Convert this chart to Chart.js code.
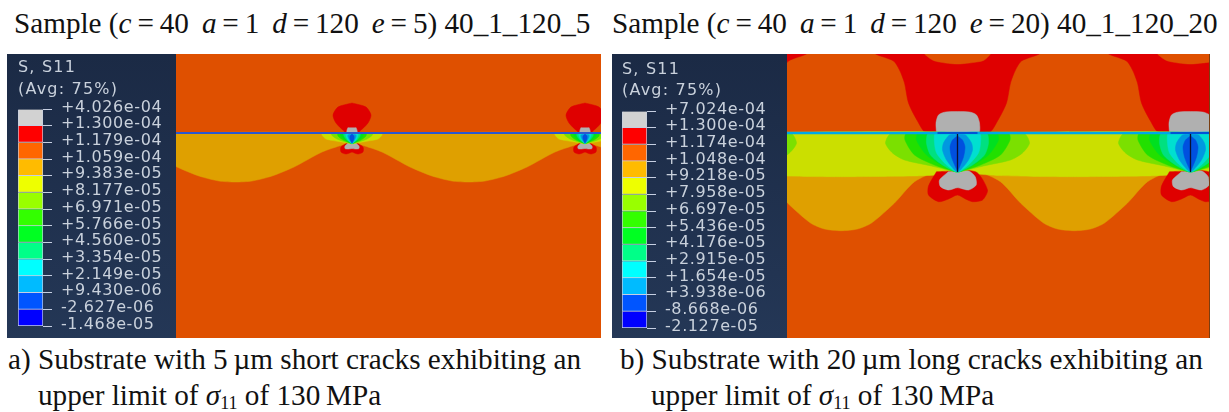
<!DOCTYPE html>
<html><head><meta charset="utf-8">
<script src="https://cdn.jsdelivr.net/npm/chart.js@4"></script>
<style>
html,body{margin:0;padding:0;background:#fff;width:1229px;height:412px;overflow:hidden}
.t{position:absolute;white-space:nowrap;font-family:"Liberation Serif",serif;color:#111;font-size:29.2px;line-height:30px}
.t i{font-style:italic}
.t sub{font-size:18px;line-height:0;vertical-align:-4px}
.t .g{letter-spacing:-.8px}
.dark{position:absolute;top:54px;height:284px;background:linear-gradient(#1b2a45,#243756)}
.cap{position:absolute;font-family:"DejaVu Sans",sans-serif;font-size:16px;letter-spacing:1.2px;color:#c9d1dc;white-space:nowrap;line-height:20px;filter:blur(.3px)}
canvas{position:absolute;display:block;filter:blur(.35px)}
</style></head><body>
<div class="t" id="ta" style="left:14px;top:8px">Sample (<i>c</i>&#8201;=&#8201;40<span class="g">&nbsp; </span><i>a</i>&#8201;=&#8201;1<span class="g">&nbsp; </span><i>d</i>&#8201;=&#8201;120<span class="g">&nbsp; </span><i>e</i>&#8201;=&#8201;5) 40_1_120_5</div>
<div class="t" id="tb" style="left:612px;top:8px">Sample (<i>c</i>&#8201;=&#8201;40<span class="g">&nbsp; </span><i>a</i>&#8201;=&#8201;1<span class="g">&nbsp; </span><i>d</i>&#8201;=&#8201;120<span class="g">&nbsp; </span><i>e</i>&#8201;=&#8201;20) 40_1_120_20</div>
<div class="dark" style="left:7px;width:169px"></div>
<div class="dark" style="left:612px;width:175px"></div>
<div class="cap" style="left:18px;top:57px">S, S11</div>
<div class="cap" style="left:18px;top:79px">(Avg: 75%)</div>
<div class="cap" style="left:622px;top:59px">S, S11</div>
<div class="cap" style="left:622px;top:80px">(Avg: 75%)</div>
<div class="t" style="left:8px;top:344px">a) Substrate with 5&#8201;µm short cracks exhibiting an</div>
<div class="t" style="left:38px;top:380px">upper limit of <i>σ</i><sub>11</sub> of 130&#8201;MPa</div>
<div class="t" style="left:620px;top:344px">b) Substrate with 20&#8201;µm long cracks exhibiting an</div>
<div class="t" style="left:651px;top:380px">upper limit of <i>σ</i><sub>11</sub> of 130&#8201;MPa</div>
<div style="position:absolute;left:1209px;top:54px;width:1px;height:284px;background:#7a3d10"></div>
<canvas id="barA" style="left:18px;top:98px" width="155" height="240"></canvas>
<canvas id="barB" style="left:622px;top:100px" width="155" height="238"></canvas>
<canvas id="mapA" style="left:176px;top:54px" width="425" height="284"></canvas>
<canvas id="mapB" style="left:787px;top:54px" width="422" height="284"></canvas>
<script>
// Legend values (top to bottom)
const legendA = ["+4.026e-04","+1.300e-04","+1.179e-04","+1.059e-04","+9.383e-05","+8.177e-05","+6.971e-05","+5.766e-05","+4.560e-05","+3.354e-05","+2.149e-05","+9.430e-06","-2.627e-06","-1.468e-05"];
const legendB = ["+7.024e-04","+1.300e-04","+1.174e-04","+1.048e-04","+9.218e-05","+7.958e-05","+6.697e-05","+5.436e-05","+4.176e-05","+2.915e-05","+1.654e-05","+3.938e-06","-8.668e-06","-2.127e-05"];
const legendColors = ["#d2d2d2","#ff0000","#ff6600","#ffbb00","#eeff00","#99ff00","#33ff00","#00ff22","#00ff88","#00ffff","#00bbff","#0055ff","#0000ff"];

// Contour outlines: x = distance from the crack, y = depth below the surface line.
// Half outlines are mirrored about the crack; full outlines are listed whole.
const crackPeriods = [-233, 0, 233];
const aCell   = [[0,0],[233,0],[233,8],[223,12],[203,19],[175,34],[153,43],[133,48],[116.5,49],[100,48],[80,43],[58,34],[30,19],[10,12],[0,8],[0,0]];
const aRedTop = [[0,-30],[14,-26],[19,-18],[16,-10],[7,-1],[5,0]];
const aGreyTop= [[4,-5.5],[5,-3],[5,0]];
const aYG     = [[0,0],[29.5,0],[30,2],[26,6],[16,8],[5,10],[0,11]];
const aLime   = [[0,0],[20,0],[20.5,2],[15,6],[5,9.5],[0,10.5]];
const aGreen  = [[0,0],[14,0],[14,3],[9,7],[3,9.5],[0,10.5]];
const aGreen2 = [[0,0],[11,0],[11,3],[7,7],[2,10],[0,10.5]];
const aTeal   = [[0,0],[8,0],[8,3],[5,7],[1,10],[0,10.5]];
const aCyan   = [[0,0],[6,0],[6,3],[4,7],[1,10],[0,10.5]];
const aLight  = [[0,1],[4,2],[4,4],[2.5,7],[0,10.5]];
const aBlue   = [[0,1],[2,3],[2,6],[0,10]];
const aRedLow = [[5,10],[11,14],[11,19],[6,21],[0,19]];
const aGreyLow= [[4,10],[7,13],[7,15.5],[4,16],[0,15.5]];

const bCell   = [[0,39],[19,38],[43,48.7],[63,70],[86,90],[100,96],[116.5,97.7],[133,96],[147,90],[170,70],[190,48.7],[214,38],[233,39]];
const bBand   = [[0,0],[233,0],[233,39],[214,42],[190,43],[150,43.5],[116.5,43.7],[80,43.5],[40,42.5],[19,41],[0,39],[0,0]];
const bRedTop = [[-83,-82],[-82,-79],[-64,-72],[-58,-63],[-53,-50],[-49,-30],[-40,-12],[-31,0],[31,0],[40,-12],[49,-30],[53,-50],[58,-63],[64,-72],[82,-79],[83,-82],[-83,-82]];
const bCap    = [[-33,-82],[-33,-79],[-24,-72.5],[-12,-70],[0,-69],[12,-70],[26,-72.5],[33,-79],[33,-82],[-33,-82]];
const bGreyTop= [[-21,0],[-21.5,-10],[-19,-18],[-12,-21],[12,-21],[19,-18],[22,-10],[21,0],[-21,0]];
const bRedLow = [[-21,38.7],[-29,53],[-29,62],[-19,68.7],[-9,66],[0,62],[8,66],[15,68.7],[25,67],[30,57],[18,38.7],[-21,38.7]];
const bGreyLow= [[-9,38.7],[-18,47],[-17,53.7],[-9,57],[0,54.7],[11,57],[18.7,52],[17.7,43.7],[11,38],[-9,38.7]];
const bLime   = [[0,0],[66,0],[72,10],[65,20],[53,27],[26,33],[6,38],[0,39]];
const bGreen  = [[0,0],[51,0],[52.5,7],[43,22],[23,32],[3,38.5],[0,39]];
const bGreen2 = [[0,0],[39,0],[41,7],[31,22],[16,32],[3,38.5],[0,39]];
const bTeal   = [[0,0],[29,0],[31,10],[27,22],[15,32],[3,38.5],[0,39]];
const bCyan   = [[0,0],[22,0],[23,10],[21,20],[12,31],[3,38],[0,39]];
const bLight  = [[0,1],[8,2],[14,10],[15,17],[11,27],[3,37],[0,39]];
const bBlue   = [[0,3],[5,7],[7.5,14],[6,24],[2,34],[0,38]];
const bCrack  = [[0,1],[0,39]];
const surfaceSpan = [[-180,0],[260,0]];
const crackHalo = [[-20,0],[20,0]];

const C = {bg:"#df5000",yo:"#dfa000",yg:"#cbdf00",lime:"#7be000",green:"#22e000",green2:"#00e020",teal:"#00e080",cyan:"#00dfd0",light:"#0098e0",blue:"#0050df",red:"#df0000",grey:"#b0b0b0"};

const mirror = h => h.concat(h.slice().reverse().map(p => [-p[0], p[1]]));
const toPts = (arr, dx) => arr.map(p => ({x:p[0]+dx, y:p[1]}));
function area(arr, color, tension){
  return crackPeriods.map(dx => ({data:toPts(arr,dx), backgroundColor:color, borderColor:color, borderWidth:0.5, pointRadius:0, showLine:true, fill:'shape', tension:tension===undefined?0.25:tension}));
}
function stroke(arr, color, w, periods){
  return (periods||[0]).map(dx => ({data:toPts(arr,dx), borderColor:color, borderWidth:w, pointRadius:0, showLine:true, fill:false, tension:0}));
}
const bgPlugin = {id:'bg', beforeDraw(c){const a=c.chartArea,x=c.ctx; x.save(); x.fillStyle=C.bg; x.fillRect(a.left,a.top,a.width,a.height); x.restore();}};
function contour(id, xmin, xmax, sets){
  // Chart.js paints the last dataset first, so the list is reversed to keep painter's order.
  new Chart(document.getElementById(id), {type:'scatter', data:{datasets:sets.reverse()}, plugins:[bgPlugin],
    options:{responsive:false, animation:false, layout:{padding:0}, plugins:{legend:{display:false},tooltip:{enabled:false}},
      scales:{x:{type:'linear',min:xmin,max:xmax,display:false}, y:{type:'linear',min:-79,max:205,reverse:true,display:false}}}});
}
function colorbar(id, labels, padTop, padBottom){
  const spacing = {id:'sp', beforeDraw(c){ c.ctx.letterSpacing='0.6px'; }};
  new Chart(document.getElementById(id), {type:'bar',
    data:{labels:['S11'], datasets:legendColors.map(col => ({data:[1], backgroundColor:col, borderColor:'#c6cfe2', borderWidth:1, stack:'s', barPercentage:1, categoryPercentage:1}))},
    plugins:[spacing],
    options:{responsive:false, animation:false, layout:{padding:{top:padTop,bottom:padBottom,left:0,right:0}}, plugins:{legend:{display:false},tooltip:{enabled:false}},
      scales:{x:{display:false, stacked:true},
        y:{position:'right', stacked:true, reverse:true, min:0, max:13,
           afterFit(s){ s.width=130; s.paddingTop=0; s.paddingBottom=0; },
           border:{display:false},
           grid:{drawOnChartArea:false, drawTicks:true, tickLength:9, tickColor:'#c6cfe2', tickWidth:1},
           ticks:{stepSize:1, autoSkip:false, padding:9, crossAlign:'near', labelOffset:-1.5, color:'#c9d1dc', font:{family:'"DejaVu Sans"',size:16},
                  callback:v => labels[v]}}}}});
}
colorbar('barA', legendA, 11, 12);
colorbar('barB', legendB, 11, 10);
contour('mapA', -176, 249, [].concat(
  area(aCell,C.yo), area(mirror(aRedTop),C.red), area(mirror(aGreyTop),C.grey),
  area(mirror(aRedLow),C.red), area(mirror(aGreyLow),C.grey),
  area(mirror(aYG),C.yg), area(mirror(aLime),C.lime), area(mirror(aGreen),C.green), area(mirror(aGreen2),C.green2),
  area(mirror(aTeal),C.teal), area(mirror(aCyan),C.cyan), area(mirror(aLight),C.light), area(mirror(aBlue),C.blue),
  stroke(surfaceSpan,'#2a58d0',2.2)
));
contour('mapB', -170.5, 251.5, [].concat(
  area(bRedTop,C.red), area(bCap,C.bg), area(bGreyTop,C.grey),
  area(bCell,C.yo), area(bBand,C.yg,0.1),
  area(bRedLow,C.red), area(bGreyLow,C.grey),
  area(mirror(bLime),C.lime), area(mirror(bGreen),C.green), area(mirror(bGreen2),C.green2),
  area(mirror(bTeal),C.teal), area(mirror(bCyan),C.cyan), area(mirror(bLight),C.light), area(mirror(bBlue),C.blue),
  stroke(surfaceSpan,'#00a8e8',2.4), stroke(crackHalo,'#0038d0',1.4,crackPeriods), stroke(bCrack,'#0a1030',1.3,crackPeriods)
));
</script>
</body></html>
